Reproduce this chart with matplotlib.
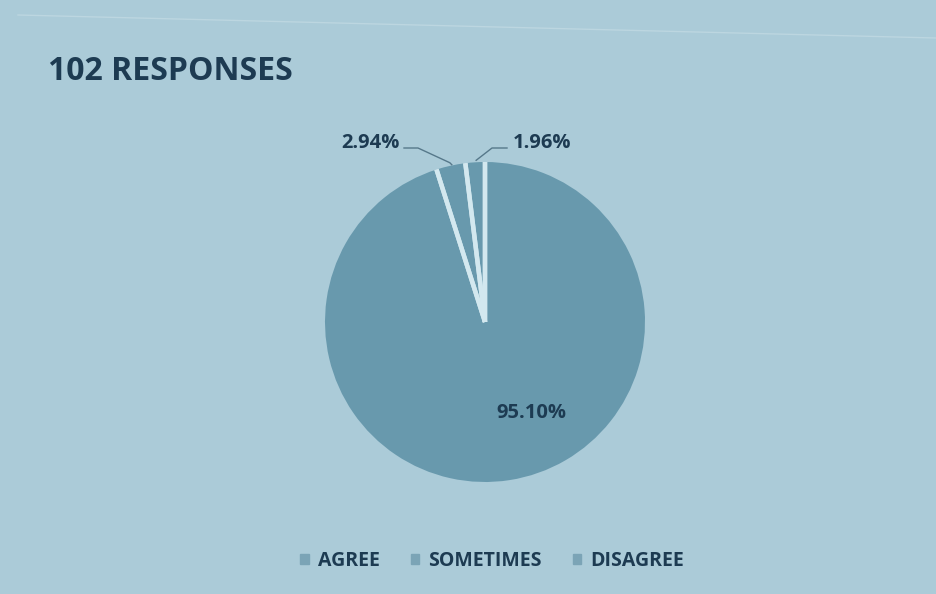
import numpy as np
import matplotlib
matplotlib.use("Agg")
import matplotlib.pyplot as plt

categories = ["AGREE", "SOMETIMES", "DISAGREE"]
values = [95.10, 2.94, 1.96]
title = "102 RESPONSES"

bg = "#abcbd8"
pie_col = "#6899ad"
sep_col = "#d3e8ef"
txt = "#1d3b52"
font = ["Open Sans", "DejaVu Sans"]

W, H = 936, 594
fig = plt.figure(figsize=(W / 100, H / 100), dpi=100)
fig.patch.set_facecolor(bg)
ax = fig.add_axes([0, 0, 1, 1])

cx, cy, r = 485, 272, 160
wedges, _ = ax.pie(values, center=(cx, cy), radius=r, startangle=90,
                   counterclock=False, colors=[pie_col] * 3,
                   wedgeprops=dict(linewidth=0), frame=True)
ax.set_xlim(0, W)
ax.set_ylim(0, H)
ax.set_aspect("equal")
ax.axis("off")

# separators between slices
for w in wedges:
    for th in (w.theta1, w.theta2):
        t = np.deg2rad(th)
        ax.plot([cx, cx + r * np.cos(t)], [cy, cy + r * np.sin(t)],
                color=sep_col, lw=3.2, solid_capstyle="butt", zorder=3)

# frame line of the photographed slide
ax.plot([18, 936], [579, 556], color="#bcd6e0", lw=1.0, zorder=1)

fig.text(48, H - 71, title, fontsize=23, fontweight="bold", color=txt,
         family=font, va="center", ha="left", transform=None)

def mid(w):
    return np.deg2rad((w.theta1 + w.theta2) / 2)

lab = dict(fontsize=14.5, fontweight="bold", color=txt, family=font,
           ha="center", va="center")
ax.text(531, H - 413, f"{values[0]:.2f}%", **lab)

t1 = mid(wedges[1])
p1 = (cx + r * np.cos(t1), cy + r * np.sin(t1))
ax.text(370, H - 143, f"{values[1]:.2f}%", **lab)
ax.plot([404, 418, p1[0] - 1, p1[0] + 1], [H - 148, H - 148, p1[1] + 3, p1[1] + 1],
        color="#56788a", lw=1.0, zorder=4)

t2 = mid(wedges[2])
p2 = (cx + r * np.cos(t2), cy + r * np.sin(t2))
ax.text(542, H - 143, f"{values[2]:.2f}%", **lab)
ax.plot([507, 492, p2[0] + 1], [H - 148, H - 148, p2[1] + 2],
        color="#56788a", lw=1.0, zorder=4)

# legend
handles = [plt.Rectangle((0, 0), 1, 1, color="#7ba4b6") for _ in categories]
leg = fig.legend(handles, categories, loc="center", bbox_to_anchor=(492 / W, 1 - 561 / H),
                 ncol=3, frameon=False, handlelength=0.45, handleheight=0.45,
                 handletextpad=0.45, columnspacing=1.6,
                 prop=dict(family=font, size=14, weight="bold"))
for t in leg.get_texts():
    t.set_color(txt)

fig.savefig("out.png", dpi=100, facecolor=bg)
